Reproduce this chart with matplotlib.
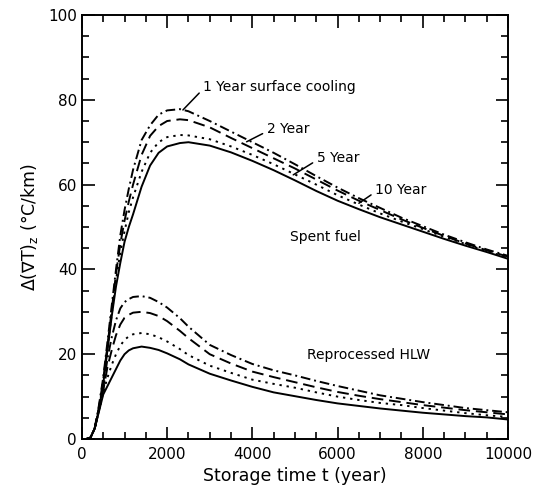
import numpy as np
from matplotlib import pyplot as plt
from matplotlib.ticker import MultipleLocator

# storage time (year)
t = [0, 100, 200, 300, 400, 500, 600, 700, 800, 900, 1000, 1100, 1200, 1400, 1600,
     1800, 2000, 2300, 2500, 3000, 3500, 4000, 4500, 5000, 5500, 6000, 6500,
     7000, 7500, 8000, 8500, 9000, 9500, 10000]

# spent fuel, surface cooling 1 / 2 / 5 / 10 year
sf_1yr = [0, 0, 0.3, 2.6, 8.0, 14.5, 23.0, 31.5, 40.0, 48.0, 54.0, 59.0, 63.5, 70.5, 74.0,
          76.5, 77.5, 77.8, 77.3, 75.0, 72.5, 70.0, 67.5, 64.8, 62.0, 59.3, 56.8,
          54.5, 52.2, 50.2, 48.2, 46.4, 44.7, 43.2]
sf_2yr = [0, 0, 0.3, 2.5, 7.5, 14.0, 22.0, 30.5, 39.0, 46.0, 51.5, 56.0, 60.0, 67.0, 71.5,
          73.8, 75.0, 75.4, 75.2, 73.5, 71.0, 68.6, 66.2, 63.8, 61.2, 58.6, 56.2,
          54.0, 51.8, 49.8, 47.9, 46.1, 44.5, 43.0]
sf_5yr = [0, 0, 0.3, 2.5, 7.2, 13.5, 21.5, 29.5, 37.5, 44.0, 49.0, 53.5, 57.0, 63.0, 67.5,
          70.0, 71.2, 71.7, 71.6, 70.7, 69.0, 67.0, 64.8, 62.4, 60.0, 57.5, 55.3,
          53.2, 51.3, 49.5, 47.7, 46.0, 44.3, 42.8]
sf_10yr = [0, 0, 0.3, 2.5, 7.0, 13.0, 21.0, 29.0, 36.0, 41.5, 46.5, 50.0, 53.0, 59.5, 64.5,
           67.5, 69.0, 69.8, 70.0, 69.2, 67.6, 65.6, 63.4, 61.0, 58.5, 56.2, 54.2,
           52.3, 50.6, 48.9, 47.2, 45.6, 44.1, 42.5]

# reprocessed HLW
hlw_1yr = [0, 0, 0.3, 2.5, 6.8, 12.0, 19.0, 24.0, 28.0, 30.8, 32.3, 33.0, 33.5, 33.7, 33.3,
           32.3, 31.0, 28.5, 26.5, 22.2, 19.8, 17.7, 16.2, 15.0, 13.7, 12.5, 11.4,
           10.3, 9.5, 8.7, 8.0, 7.3, 6.8, 6.3]
hlw_2yr = [0, 0, 0.3, 2.5, 6.8, 11.5, 17.0, 21.0, 24.5, 27.0, 28.6, 29.3, 29.8, 30.0, 29.7,
           29.0, 27.8, 25.5, 23.8, 20.0, 17.8, 15.9, 14.6, 13.4, 12.2, 11.1, 10.2,
           9.4, 8.7, 8.0, 7.4, 6.8, 6.3, 5.8]
hlw_5yr = [0, 0, 0.3, 2.5, 6.7, 11.0, 14.5, 17.5, 20.0, 22.0, 23.4, 24.2, 24.7, 25.0, 24.7,
           24.0, 23.0, 21.2, 19.8, 17.3, 15.6, 14.0, 13.0, 12.1, 11.0, 10.0, 9.2,
           8.5, 8.0, 7.3, 6.7, 6.1, 5.6, 5.2]
hlw_10yr = [0, 0, 0.3, 2.5, 6.5, 10.5, 12.5, 14.5, 16.5, 18.5, 20.0, 20.9, 21.4, 21.8, 21.5,
            21.0, 20.2, 18.8, 17.6, 15.4, 13.8, 12.3, 11.0, 10.1, 9.2, 8.4, 7.8,
            7.2, 6.7, 6.2, 5.8, 5.4, 5.1, 4.6]

styles = {
    "1yr": (0, (5, 2, 1, 2)),
    "2yr": (0, (6, 3)),
    "5yr": (0, (1.2, 2.5)),
    "10yr": "-",
}

fig = plt.figure(figsize=(5.39, 4.92), dpi=100)
ax = fig.add_axes([0.152, 0.1077, 0.7905, 0.8618])

for y, key in [(sf_1yr, "1yr"), (sf_2yr, "2yr"), (sf_5yr, "5yr"), (sf_10yr, "10yr"),
               (hlw_1yr, "1yr"), (hlw_2yr, "2yr"), (hlw_5yr, "5yr"), (hlw_10yr, "10yr")]:
    ax.plot(t, y, color="k", lw=1.4, ls=styles[key])

ax.set_xlim(0, 10000)
ax.set_ylim(0, 100)
ax.xaxis.set_major_locator(MultipleLocator(2000))
ax.xaxis.set_minor_locator(MultipleLocator(500))
ax.yaxis.set_major_locator(MultipleLocator(20))
ax.yaxis.set_minor_locator(MultipleLocator(5))
ax.tick_params(which="both", direction="in", top=True, right=True, width=1.2,
               labelsize=11)
ax.tick_params(which="major", length=9)
ax.tick_params(which="minor", length=5)
ax.tick_params(axis="x", pad=6)
for s in ax.spines.values():
    s.set_linewidth(1.4)

ax.set_xlabel("Storage time t (year)", fontsize=12.5, labelpad=3)
ax.set_ylabel(r"$\Delta(\nabla\mathrm{T})_\mathrm{z}$ (°C/km)", fontsize=12.5, labelpad=6)

# curve labels
arrow = dict(arrowstyle="-", color="k", lw=1.1, relpos=(0, 0.35), shrinkA=1, shrinkB=0)
ax.annotate("1 Year surface cooling", xy=(2370, 77.6), xytext=(2840, 83),
            fontsize=10, va="center", arrowprops=arrow)
ax.annotate("2 Year", xy=(3865, 70.1), xytext=(4335, 73),
            fontsize=10, va="center", arrowprops=arrow)
ax.annotate("5 Year", xy=(4960, 62.3), xytext=(5508, 66.2),
            fontsize=10, va="center", arrowprops=arrow)
ax.annotate("10 Year", xy=(6500, 55.6), xytext=(6878, 58.7),
            fontsize=10, va="center", arrowprops=arrow)
ax.text(4883, 47.7, "Spent fuel", fontsize=10, va="center")
ax.text(5274, 19.8, "Reprocessed HLW", fontsize=10, va="center")

plt.savefig("out.png", dpi=100)
